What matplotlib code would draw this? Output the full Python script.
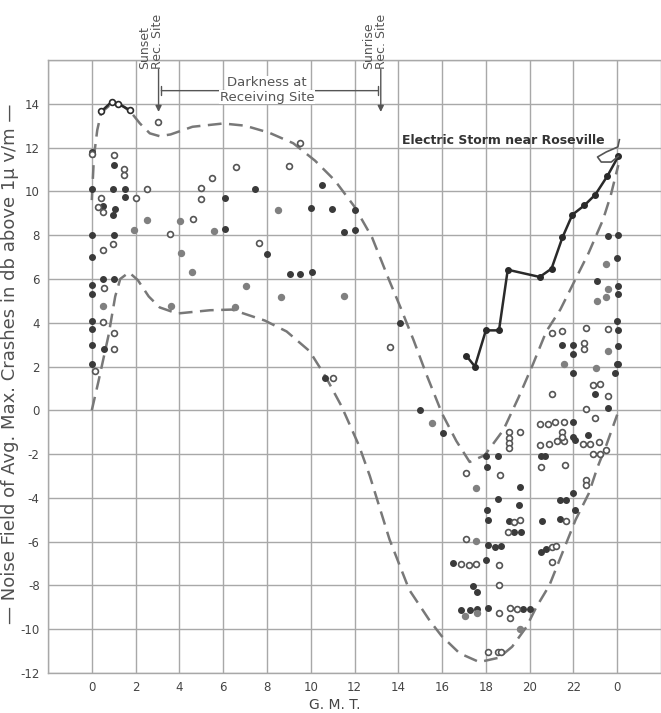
import numpy as np
import matplotlib
matplotlib.use("Agg")
import matplotlib.pyplot as plt

# hours G.M.T. (0..24) and noise field in db above 1 uv/m
upper_x = [0, 0.1, 0.25, 0.43, 0.9, 1.3, 1.8, 2.2, 2.65, 3.1, 3.6, 4.6, 6.0, 7.0, 8.1,
           9.2, 10.2, 11.1, 12.0, 12.8, 13.6, 14.1, 14.7, 15.3, 16.0, 16.65, 17.26,
           17.95, 18.8, 19.5, 20.15, 20.76, 21.4, 22.05, 22.7, 23.35, 23.7, 24.05]
upper_y = [9.6, 11.6, 12.8, 13.6, 14.0, 14.0, 13.6, 13.1, 12.65, 12.52, 12.6, 12.95,
           13.1, 13.0, 12.68, 12.2, 11.4, 10.5, 9.3, 7.9, 5.9, 4.7, 3.2, 1.6, -0.15,
           -1.4, -2.36, -2.05, -0.9, 0.6, 2.1, 3.6, 4.6, 5.9, 7.2, 8.7, 9.8, 11.2]

lower_x = [0, 0.3, 0.76, 1.07, 1.3, 1.7, 2.1, 2.6, 3.1, 3.9, 5.4, 6.4, 7.9, 8.9, 9.95,
           10.7, 11.4, 12.2, 12.7, 13.6, 14.5, 15.43, 15.97, 16.8, 17.7, 18.6, 19.2,
           19.85, 20.3, 20.9, 21.5, 22.1, 22.7, 23.1, 23.5, 24.0]
lower_y = [0, 1.3, 3.4, 5.2, 6.0, 6.3, 5.95, 5.2, 4.7, 4.42, 4.57, 4.6, 4.1, 3.6, 2.7,
           1.5, 0.2, -1.6, -3.0, -5.9, -8.2, -9.6, -10.3, -11.1, -11.5, -11.3, -10.8,
           -9.9, -9.0, -8.0, -6.5, -5.0, -3.8, -2.6, -1.6, -0.2]

storm_x = [17.1, 17.5, 18.0, 18.6, 19.0, 20.46, 21.0, 21.5, 21.95, 22.5, 23.0, 23.55, 24.05]
storm_y = [2.5, 2.0, 3.65, 3.65, 6.42, 6.09, 6.47, 7.9, 8.93, 9.36, 9.85, 10.7, 11.6]
storm_curl_x = [24.1, 24.03, 23.5, 23.1, 23.27, 23.73, 24.05]
storm_curl_y = [12.36, 12.03, 11.8, 11.57, 11.34, 11.34, 11.6]

early_x = [0.43, 0.92, 1.2, 1.76]
early_y = [13.65, 14.1, 14.0, 13.7]

dark_x = [0, 0, 0, 0, 0, 0, 0, 0, 0, 0,
          1.0, 0.95, 1.53, 1.53, 0.49, 1.04, 0.95, 1.0, 0.49, 1.0, 0.55,
          7.47, 10.5, 6.1, 10.03, 10.95, 12.0, 6.09, 11.52, 12.04, 8.0, 9.07, 9.53, 10.08, 10.64,
          14.06, 14.98, 16.04,
          18.02, 18.55, 18.05, 19.57, 18.55, 19.51, 18.05, 18.1, 20.58, 19.04, 19.3, 19.6,
          20.53, 20.68, 21.5, 22.0, 22.0, 22.0, 24.03, 24.03, 23.88, 23.0, 23.58, 22.0, 22.0,
          22.05, 22.66, 22.0, 22.05, 21.37, 21.68, 21.37, 20.53, 20.76,
          18.1, 18.4, 18.7, 16.5, 18.02, 17.41, 17.59, 16.88, 17.26, 17.59, 18.1, 19.7, 20.0,
          23.58, 24.03, 23.99, 23.07, 24.03, 24.03, 23.99, 24.03, 23.99]
dark_y = [11.8, 10.1, 8.0, 7.0, 5.7, 5.3, 4.08, 3.73, 2.96, 2.1,
          11.2, 10.1, 10.1, 9.75, 9.35, 9.2, 8.9, 8.0, 5.98, 5.98, 2.8,
          10.1, 10.3, 9.7, 9.24, 9.18, 9.13, 8.26, 8.14, 8.22, 7.15, 6.24, 6.24, 6.3, 1.47,
          3.99, 0.0, -1.04,
          -2.1, -2.1, -2.59, -3.5, -4.03, -4.34, -4.57, -5.02, -5.05, -5.05, -5.56, -5.56,
          -2.1, -2.1, 2.97, 2.97, 2.59, 1.7, 2.92, 2.13, 1.7, 0.76, 0.12, -0.53, -1.22,
          -1.37, -1.14, -3.8, -4.57, -4.08, -4.08, -4.98, -6.47, -6.32,
          -6.16, -6.24, -6.21, -6.97, -6.85, -8.04, -8.3, -9.1, -9.1, -9.06, -9.01, -9.06, -9.06,
          7.95, 7.99, 6.97, 5.9, 5.66, 5.3, 4.08, 3.65, 2.1]

grey_x = [0.49, 1.95, 2.52, 4.05, 5.57, 8.5, 4.08, 4.6, 7.03, 8.62, 11.52, 3.64, 6.53,
          15.54, 17.53, 21.55, 23.58, 23.04, 23.5, 23.58, 23.5, 23.07, 17.53, 17.03, 17.6, 19.54]
grey_y = [4.76, 8.25, 8.7, 8.65, 8.17, 9.16, 7.18, 6.32, 5.66, 5.17, 5.22, 4.75, 4.72,
          -0.58, -3.53, 2.13, 2.71, 1.95, 6.7, 5.56, 5.17, 4.99, -5.97, -9.4, -9.28, -10.0]

open_x = [0, 1.0, 1.48, 1.48, 2.52, 0.43, 2.0, 0.27, 0.49, 0.96, 0.49, 0.55, 0.49, 1.0, 1.0, 0.15, 3.02,
          9.5, 6.58, 9.0, 5.51, 5.0, 5.0, 4.62, 3.56, 7.64, 11.0, 13.6,
          19.04, 19.04, 19.04, 19.04, 19.54, 20.46, 20.84, 21.14, 21.55, 20.46, 20.9, 21.24, 21.55,
          20.53, 17.08, 18.63, 19.3, 19.57, 19.0,
          21.03, 22.5, 22.5, 22.9, 23.2, 23.58, 22.58, 23.0, 21.5, 21.5, 22.46, 22.77, 23.16,
          22.9, 23.2, 21.6, 22.56, 22.56, 21.68, 21.0, 21.22, 21.02, 17.08, 16.88, 17.23, 17.56,
          18.58, 18.58, 19.09, 19.4, 18.6, 19.09, 18.1, 18.55, 18.7, 22.58, 23.58, 21.49, 21.04, 23.5]
open_y = [11.7, 11.66, 11.0, 10.75, 10.1, 9.7, 9.7, 9.3, 9.05, 7.6, 7.3, 5.6, 4.03, 3.54, 2.8, 1.8, 13.16,
          12.2, 11.1, 11.15, 10.6, 10.15, 9.66, 8.74, 8.07, 7.64, 1.47, 2.89,
          -0.99, -1.25, -1.49, -1.7, -0.99, -0.61, -0.61, -0.55, -0.53, -1.6, -1.52, -1.4, -1.4,
          -2.59, -2.86, -2.97, -5.1, -4.99, -5.56,
          0.73, 3.07, 2.81, 1.14, 1.22, 0.64, 0.08, -0.33, -0.99, -1.22, -1.55, -1.52, -1.45,
          -2.0, -2.0, -2.51, -3.2, -3.42, -5.05, -6.24, -6.21, -6.93, -5.86, -7.03, -7.05, -7.03,
          -7.08, -7.99, -9.01, -9.06, -9.25, -9.51, -11.03, -11.03, -11.03, 3.77, 3.73, 3.62, 3.53, -1.8]

x_ticks = list(range(0, 25, 2))
x_labels = ["0", "2", "4", "6", "8", "10", "12", "14", "16", "18", "20", "22", "0"]
y_ticks = list(range(-12, 15, 2))

sunset_hr = 3.05
sunrise_hr = 13.2

fig = plt.figure(figsize=(6.61, 7.13), dpi=100)
ax = fig.add_axes([48 / 661, 1 - 673 / 713, 613 / 661, 613 / 713])

ax.set_xlim(-2, 26)
ax.set_ylim(-12, 16)
ax.set_xticks(range(-2, 27, 2))
ax.set_yticks(range(-12, 17, 2))
ax.set_xticklabels([""] + x_labels + [""])
ax.set_yticklabels([str(v) for v in y_ticks] + [""])
ax.tick_params(length=0, labelsize=8.5, colors="#444444", pad=6)
ax.grid(True, color="#a8a8a8", lw=1.0)
for s in ax.spines.values():
    s.set_color("#a8a8a8")
    s.set_linewidth(1.0)
ax.spines["right"].set_visible(False)

# envelopes
ax.plot(upper_x, upper_y, color="#787878", lw=1.8, dashes=(5.5, 3), zorder=3)
ax.plot(lower_x, lower_y, color="#787878", lw=1.8, dashes=(5.5, 3), zorder=3)

# scattered readings
ax.plot(dark_x, dark_y, "o", color="#3a3a3a", ms=4.0, zorder=4)
ax.plot(grey_x, grey_y, "o", color="#808080", ms=4.3, zorder=4)
ax.plot(open_x, open_y, "o", mfc="white", mec="#555555", mew=1.2, ms=4.2, zorder=4)

# storm day and the early curve
ax.plot(storm_x, storm_y, "-o", color="#2a2a2a", lw=1.8, ms=4, zorder=5)
ax.plot(storm_curl_x, storm_curl_y, "-", color="#555555", lw=1.2, zorder=5)
ax.plot(early_x, early_y, "-o", color="#2a2a2a", lw=1.8, ms=4.2, mfc="white", mew=1.2, zorder=5)

ax.text(14.15, 12.33, "Electric Storm near Roseville", fontsize=9, fontweight="bold",
        color="#333333", va="center", ha="left", zorder=6)

# darkness annotations
ax.text(2.7, 15.6, "Sunset\nRec. Site", rotation=90, fontsize=9, color="#555555",
        ha="center", va="bottom", multialignment="left", linespacing=1.0)
ax.text(12.95, 15.6, "Sunrise\nRec. Site", rotation=90, fontsize=9, color="#555555",
        ha="center", va="bottom", multialignment="left", linespacing=1.0)
ax.annotate("", xy=(sunset_hr, 13.5), xytext=(sunset_hr, 15.7),
            arrowprops=dict(arrowstyle="-|>", color="#555555", lw=1.0, mutation_scale=9))
ax.annotate("", xy=(sunrise_hr, 13.5), xytext=(sunrise_hr, 15.7),
            arrowprops=dict(arrowstyle="-|>", color="#555555", lw=1.0, mutation_scale=9))
ax.annotate("", xy=(sunset_hr, 14.6), xytext=(sunrise_hr, 14.6),
            arrowprops=dict(arrowstyle="|-|", color="#555555", lw=1.0, mutation_scale=3))
ax.text(8.0, 14.95, "Darkness at", fontsize=9.5, color="#555555", ha="center", va="center",
        bbox=dict(facecolor="white", edgecolor="none", pad=0.5))
ax.text(8.0, 14.3, "Receiving Site", fontsize=9.5, color="#555555", ha="center", va="center",
        bbox=dict(facecolor="white", edgecolor="none", pad=0.5))

ax.set_xlabel("G. M. T.", fontsize=10, color="#444444")
ax.xaxis.set_label_coords(0.468, -0.04)
ax.set_ylabel("\u2014 Noise Field of Avg. Max. Crashes in db above 1\u03bc v/m \u2014",
              fontsize=13, color="#505050")
ax.yaxis.set_label_coords(-0.047, 0.505)

fig.savefig("out.png", dpi=100)
